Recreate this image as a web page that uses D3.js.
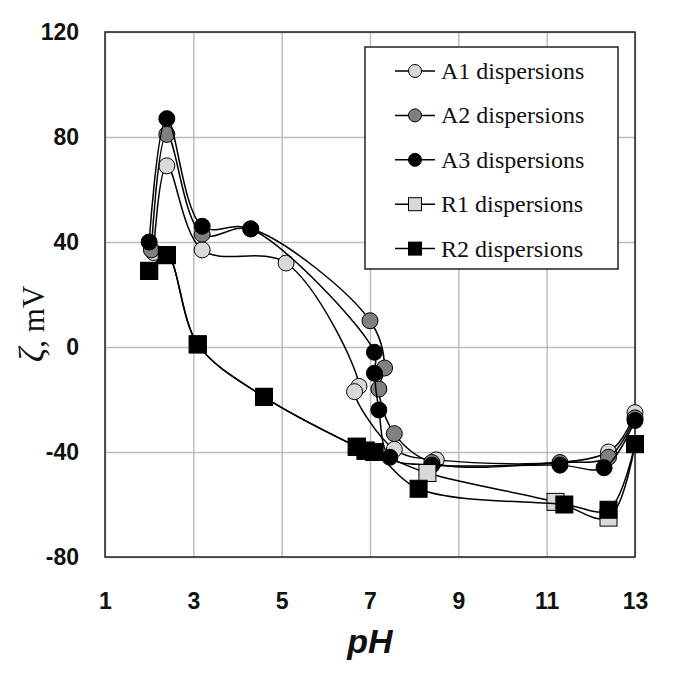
<!DOCTYPE html>
<html>
<head>
<meta charset="utf-8">
<script src="https://cdn.jsdelivr.net/npm/d3@7"></script>
<style>
  body { margin: 0; background: #fff; }
  svg { display: block; }
</style>
</head>
<body>
<div id="chart"></div>
<script>
// values
const seriesNames = ['A1 dispersions', 'A2 dispersions', 'A3 dispersions', 'R1 dispersions', 'R2 dispersions'];

const phA1 = [2.1, 2.4, 3.2, 5.1, 6.75, 6.65, 7.55, 8.5, 12.4, 13.0];
const zetaA1 = [36, 69, 37, 32, -15, -17, -39, -43, -40, -25];

const phA2 = [2.05, 2.4, 3.2, 4.3, 7.0, 7.33, 7.2, 7.55, 8.4, 11.3, 12.4, 13.0];
const zetaA2 = [37, 81, 43, 45, 10, -8, -16, -33, -44, -44, -42, -27];

const phA3 = [2.0, 2.4, 3.2, 4.3, 7.1, 7.1, 7.2, 7.45, 8.4, 11.3, 12.3, 13.0];
const zetaA3 = [40, 87, 46, 45, -2, -10, -24, -42, -45, -45, -46, -28];

const phR1 = [2.0, 2.4, 3.1, 4.6, 6.7, 6.9, 7.1, 8.3, 11.2, 12.4, 13.0];
const zetaR1 = [29, 35, 1, -19, -38, -39.5, -40, -48, -59, -65, -37];

const phR2 = [2.0, 2.4, 3.1, 4.6, 6.7, 6.9, 7.1, 8.1, 11.4, 12.4, 13.0];
const zetaR2 = [29, 35, 1, -19, -38, -39.5, -40, -54, -60, -62, -37];

const xTicks = [1, 3, 5, 7, 9, 11, 13];
const yTicks = [-80, -40, 0, 40, 80, 120];

const width = 685, height = 679;
const margin = {top: 32, right: 50, bottom: 122, left: 105};
const w = width - margin.left - margin.right;
const h = height - margin.top - margin.bottom;

const sansFont = "'Liberation Sans', Arial, sans-serif";
const serifFont = "'Liberation Serif', 'Times New Roman', serif";

const series = [
  {name: seriesNames[0], x: phA1, y: zetaA1, shape: 'circle', fill: '#d9d9d9'},
  {name: seriesNames[1], x: phA2, y: zetaA2, shape: 'circle', fill: '#808080'},
  {name: seriesNames[2], x: phA3, y: zetaA3, shape: 'circle', fill: '#000000'},
  {name: seriesNames[3], x: phR1, y: zetaR1, shape: 'square', fill: '#d9d9d9'},
  {name: seriesNames[4], x: phR2, y: zetaR2, shape: 'square', fill: '#000000'}
];

const svg = d3.select('#chart').append('svg')
  .attr('width', width)
  .attr('height', height);

const g = svg.append('g')
  .attr('transform', `translate(${margin.left},${margin.top})`);

const x = d3.scaleLinear().domain([1, 13]).range([0, w]);
const y = d3.scaleLinear().domain([-80, 120]).range([h, 0]);

// grid
g.append('g')
  .call(d3.axisBottom(x).tickValues(xTicks).tickSize(h).tickFormat(''))
  .call(s => s.select('.domain').remove())
  .call(s => s.selectAll('line').attr('stroke', '#bdbdbd').attr('stroke-width', 1.5));

g.append('g')
  .call(d3.axisLeft(y).tickValues(yTicks).tickSize(-w).tickFormat(''))
  .call(s => s.select('.domain').remove())
  .call(s => s.selectAll('line').attr('stroke', '#bdbdbd').attr('stroke-width', 1.5));

// plot frame
g.append('rect')
  .attr('width', w)
  .attr('height', h)
  .attr('fill', 'none')
  .attr('stroke', '#222')
  .attr('stroke-width', 1.5);

// tick labels (plain hyphen for negatives, like the original)
g.append('g')
  .attr('transform', `translate(0,${h})`)
  .call(d3.axisBottom(x).tickValues(xTicks).tickSize(0).tickPadding(36).tickFormat(d => String(d)))
  .call(s => s.select('.domain').remove())
  .call(s => s.selectAll('text')
    .attr('font-family', sansFont)
    .attr('font-weight', 'bold')
    .attr('font-size', 23)
    .attr('fill', '#111'));

g.append('g')
  .call(d3.axisLeft(y).tickValues(yTicks).tickSize(0).tickPadding(26).tickFormat(d => String(d)))
  .call(s => s.select('.domain').remove())
  .call(s => s.selectAll('text')
    .attr('font-family', sansFont)
    .attr('font-weight', 'bold')
    .attr('font-size', 23)
    .attr('fill', '#111'));

// axis titles
svg.append('text')
  .attr('x', margin.left + w / 2)
  .attr('y', 653)
  .attr('text-anchor', 'middle')
  .attr('font-family', sansFont)
  .attr('font-weight', 'bold')
  .attr('font-style', 'italic')
  .attr('font-size', 34)
  .attr('fill', '#111')
  .text('pH');

const yTitle = svg.append('text')
  .attr('transform', 'translate(44,324) rotate(-90)')
  .attr('text-anchor', 'middle')
  .attr('font-family', serifFont)
  .attr('font-size', 31)
  .attr('fill', '#111');
yTitle.append('tspan').attr('font-style', 'italic').attr('font-size', 36).text('ζ');
yTitle.append('tspan').text(', mV');

// series
const line = d3.line()
  .x(d => x(d[0]))
  .y(d => y(d[1]))
  .curve(d3.curveCatmullRom.alpha(0.5));

function drawMarker(sel, shape, fill, size) {
  if (shape === 'circle') {
    sel.append('circle')
      .attr('r', size / 2)
      .attr('fill', fill)
      .attr('stroke', '#000')
      .attr('stroke-width', 1);
  } else {
    sel.append('rect')
      .attr('x', -size / 2)
      .attr('y', -size / 2)
      .attr('width', size)
      .attr('height', size)
      .attr('fill', fill)
      .attr('stroke', '#000')
      .attr('stroke-width', 1);
  }
}

series.forEach(s => {
  const pts = s.x.map((v, i) => [v, s.y[i]]);
  const sg = g.append('g');
  sg.append('path')
    .datum(pts)
    .attr('d', line)
    .attr('fill', 'none')
    .attr('stroke', '#000')
    .attr('stroke-width', 1.5);
  sg.selectAll('.pt')
    .data(pts)
    .enter()
    .append('g')
    .attr('transform', d => `translate(${x(d[0])},${y(d[1])})`)
    .each(function() { drawMarker(d3.select(this), s.shape, s.fill, s.shape === 'circle' ? 16 : 17); });
});

// legend
const legend = svg.append('g').attr('transform', 'translate(365,47)');
legend.append('rect')
  .attr('width', 253)
  .attr('height', 222)
  .attr('fill', '#fff')
  .attr('stroke', '#222')
  .attr('stroke-width', 1.5);

series.forEach((s, i) => {
  const row = legend.append('g').attr('transform', `translate(0,${24 + i * 44.4})`);
  row.append('line')
    .attr('x1', 30).attr('x2', 70)
    .attr('stroke', '#000').attr('stroke-width', 1.5);
  const m = row.append('g').attr('transform', 'translate(50,0)');
  drawMarker(m, s.shape, s.fill, 13);
  row.append('text')
    .attr('x', 76)
    .attr('y', 8)
    .attr('font-family', serifFont)
    .attr('font-size', 24)
    .attr('fill', '#111')
    .text(s.name);
});
</script>
</body>
</html>
